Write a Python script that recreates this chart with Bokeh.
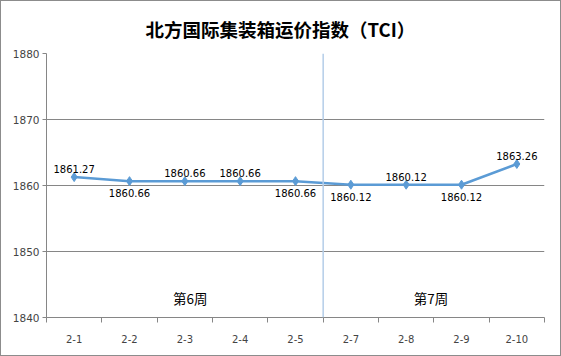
from bokeh.plotting import figure
from bokeh.models import FixedTicker, Span, ColumnDataSource
from bokeh.core.properties import value
from bokeh.embed import file_html
from bokeh.resources import INLINE

title_text = "北方国际集装箱运价指数（TCI）"
categories = ["2-1", "2-2", "2-3", "2-4", "2-5", "2-7", "2-8", "2-9", "2-10"]
tci = [1861.27, 1860.66, 1860.66, 1860.66, 1860.66, 1860.12, 1860.12, 1860.12, 1863.26]
label_side = ["above", "below", "above", "above", "below", "below", "above", "below", "above"]
week_names = ["第6周", "第7周"]
week_x = [2.6, 6.95]
week_y = [1842.9, 1842.9]
y_ticks = [1840, 1850, 1860, 1870, 1880]

xs = [i + 0.5 for i in range(len(categories))]
labels = [f"{v:.2f}" for v in tci]
offs = [-4 if s == "above" else 8 for s in label_side]
bases = ["bottom" if s == "above" else "top" for s in label_side]

src = ColumnDataSource(dict(x=xs, y=tci, lab=labels, off=offs, base=bases))

p = figure(width=561, height=356, output_backend="svg", toolbar_location=None,
           x_range=(0, len(categories)), y_range=(1840, 1880),
           min_border_left=45, min_border_right=18, min_border_top=52, min_border_bottom=40)
p.styles = {"border": "1px solid #8c8c8c", "box-sizing": "border-box"}
p.background_fill_color = "white"
p.border_fill_color = "white"
p.outline_line_color = None

p.title.text = title_text
p.title.align = "left"
p.title.offset = 99
p.title.text_font = "Noto Sans CJK SC"
p.title.text_font_size = "18.5px"
p.title.text_font_style = "bold"
p.title.text_color = "black"
p.title.standoff = 20
p.title.vertical_align = "top"

# axes
p.xaxis.ticker = FixedTicker(ticks=xs, minor_ticks=list(range(len(categories) + 1)))
p.xaxis.major_label_overrides = {x: c for x, c in zip(xs, categories)}
p.xaxis.major_tick_line_color = None
p.xaxis.minor_tick_line_color = "#868686"
p.xaxis.minor_tick_out = 5
p.xaxis.minor_tick_in = 0
p.xaxis.axis_line_color = "#868686"
p.xaxis.major_label_text_font = "DejaVu Sans"
p.xaxis.major_label_text_font_size = "10px"
p.xaxis.major_label_standoff = 11
p.xgrid.visible = False

p.yaxis.ticker = FixedTicker(ticks=y_ticks)
p.yaxis.minor_tick_line_color = None
p.yaxis.major_tick_line_color = "#868686"
p.yaxis.major_tick_out = 4
p.yaxis.major_tick_in = 0
p.yaxis.axis_line_color = "#868686"
p.yaxis.major_label_text_font = "DejaVu Sans"
p.yaxis.major_label_text_font_size = "10.5px"
p.yaxis.major_label_standoff = 3
p.ygrid.grid_line_color = "#868686"
p.ygrid.grid_line_width = 1

# week separator
p.add_layout(Span(location=5, dimension="height", line_color="#b4cde9", line_width=1.5))

p.line("x", "y", source=src, line_color="#5b9bd5", line_width=2.5)
p.scatter("x", "y", source=src, marker="diamond", size=9, fill_color="#5b9bd5", line_color="#5b9bd5")
p.text("x", "y", text="lab", source=src, y_offset="off", text_baseline="base",
       text_align="center", text_font=value("DejaVu Sans"), text_font_size="10px", text_color="black")

p.text(week_x, week_y, text=week_names, text_align="center", text_baseline="middle",
       text_font=value("Noto Sans CJK SC"), text_font_size="13.5px", text_color="black")

open("out.html", "w").write(file_html(p, INLINE))
